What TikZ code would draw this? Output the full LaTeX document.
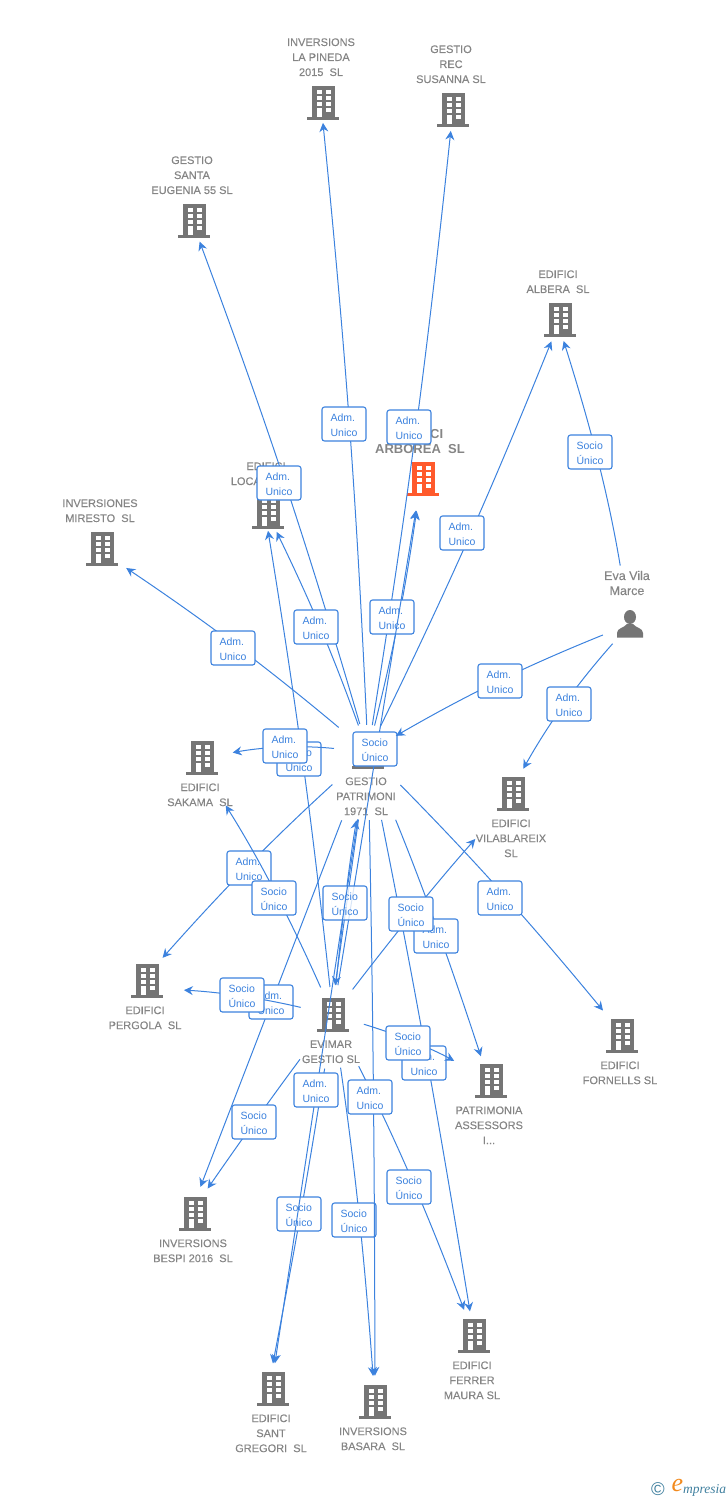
\documentclass[tikz,border=0pt]{standalone}
\usepackage{fontspec}
\setmainfont{Liberation Sans}
\newfontfamily\labelfont[FakeBold=0.3]{Liberation Sans}
\newfontfamily\logofont{Liberation Serif}
\usetikzlibrary{positioning,arrows.meta}
\definecolor{linkBlue}{HTML}{3C82DE}
\definecolor{compGray}{HTML}{757575}
\definecolor{labelGray}{HTML}{858585}
\definecolor{mainOrange}{HTML}{FF5A2C}
\definecolor{logoTeal}{HTML}{3F7F9E}
\definecolor{logoOrange}{HTML}{F28A1E}
\tikzset{
  company/.style={inner sep=0pt, minimum size=0pt},
  compLabel/.style={inner sep=0pt, align=center, text=labelGray, font=\labelfont\fontsize{11}{15}\selectfont},
  link/.style={draw=linkBlue, line width=1pt, -{Stealth[length=9pt,width=9pt,inset=3pt]}},
  tagbox/.style={draw=linkBlue, line width=1.1pt, fill=white, rounded corners=2.5pt, text=linkBlue,
    minimum width=44pt, minimum height=34pt, inner sep=0pt, align=left, text height=26pt, font=\fontsize{10.5}{15}\selectfont},
  building/.pic={
    \fill[#1] (-11,-17) rectangle (11.5,14);
    \fill[#1] (-16,13.5) rectangle (16,16.5);
    \foreach \wy in {-13,-7,-1,5} \fill[white] (3,\wy) rectangle (8,\wy+4);
    \foreach \wy in {-13,-7,-1} \fill[white] (-6.5,\wy) rectangle (-1.5,\wy+4);
    \fill[white] (-6.5,5) rectangle (-1.5,13.5);
  },
  person/.pic={
    \fill[compGray] (0,-7) ellipse (6 and 7);
    \fill[compGray] (-13,13.5) -- (-13,9) .. controls (-13,4) and (-6,4) .. (-3,0) -- (3,0) .. controls (6,4) and (13,4) .. (13,9) -- (13,13.5) -- cycle;
  }
}
\begin{document}
\begin{tikzpicture}[x=1pt, y=-1pt, line join=round]
\useasboundingbox (0,0) rectangle (728,1500);
% companies with the label under the icon
\foreach \nm/\x/\y/\txt in {
  gestio/368/752/{GESTIO\\PATRIMONI\\1971\ \ SL},
  evimar/333/1015/{EVIMAR\\GESTIO SL},
  sakama/202/758/{EDIFICI\\SAKAMA\ \ SL},
  vilablareix/513/794/{EDIFICI\\VILABLAREIX\\SL},
  pergola/147/981/{EDIFICI\\PERGOLA\ \ SL},
  fornells/622/1036/{EDIFICI\\FORNELLS SL},
  patrimonia/491/1081/{PATRIMONIA\\ASSESSORS\\I...},
  bespi/195/1214/{INVERSIONS\\BESPI 2016\ \ SL},
  ferrer/474/1336/{EDIFICI\\FERRER\\MAURA SL},
  gregori/273/1389/{EDIFICI\\SANT\\GREGORI\ \ SL},
  basara/375/1402/{INVERSIONS\\BASARA\ \ SL}}{
  \node[company] (\nm) at (\x,\y) {};
  \pic at (\nm) {building=compGray};
  \node[compLabel, below=25pt of \nm, xshift=-2pt] (\nm-l) {\txt};
}
% companies with the label over the icon
\foreach \nm/\x/\y/\txt in {
  pineda/323/103/{INVERSIONS\\LA PINEDA\\2015\ \ SL},
  susanna/453/110/{GESTIO\\REC\\SUSANNA SL},
  eugenia/194/221/{GESTIO\\SANTA\\EUGENIA 55 SL},
  albera/560/320/{EDIFICI\\ALBERA\ \ SL},
  locales/268/512/{EDIFICI\\LOCALES\ \ SL},
  miresto/102/549/{INVERSIONES\\MIRESTO\ \ SL}}{
  \node[company] (\nm) at (\x,\y) {};
  \pic at (\nm) {building=compGray};
  \node[compLabel, above=26.5pt of \nm, xshift=-2pt] (\nm-l) {\txt};
}
\node[company] (arborea) at (423,479) {};
\pic at (arborea) {building=mainOrange};
\node[compLabel, above=25pt of arborea, xshift=-3pt, font=\fontsize{13}{15}\bfseries] (arborea-l) {EDIFICI\\ARBOREA\ \ SL};
\node[company] (eva) at (630,624) {};
\pic at (eva) {person};
\node[compLabel, above=28.5pt of eva, xshift=-3pt, font=\labelfont\fontsize{12.5}{15}\selectfont] (eva-l) {Eva Vila\\Marce};
% links of gestio
\foreach \dst/\dx/\gapa/\gapb/\bnd/\tx/\ty in {
  pineda/-2/27/20/-1.5/344/424,
  susanna/0/27/21/-1.5/409/427,
  eugenia/-2/29/22/-2/279/483,
  locales/-1/28/22/-3/316/627,
  arborea/-2/27/32/-3/392/617,
  albera/0/28/23/-2/462/533,
  miresto/-4/38/34/-3/233/648,
  pergola/-5/48/31/-3/249/868,
  bespi/-5/73/29/0/271/1002,
  patrimonia/-2/73/26/2/436/936,
  fornells/2/46/33/2.5/500/898,
  ferrer/0/69/25/1/424/1063}{
  \draw[link, shorten <=\gapa pt, shorten >=\gapb pt] (gestio) to[bend left=\bnd] ([xshift=\dx pt]\dst);
  \node[tagbox] (adm-\dst) at (\tx,\ty) {Adm.\\Unico};
}
\draw[link, shorten <=68pt, shorten >=30pt] (gestio) to ([xshift=-2pt]evimar);
% links of evimar
\foreach \dst/\dx/\gapa/\gapb/\bnd/\tx/\ty in {
  sakama/-6/30/56/-4/274/898,
  locales/-3/28/19/-1.5/299/759,
  arborea/-2/30/32/0/375/749,
  vilablareix/2/32/60/2/411/914,
  patrimonia/0/32/42/6/408/1043,
  ferrer/0/57/28/3/409/1187,
  basara/0/53/26/2/354/1220,
  gregori/-5/54/26/1/299/1214,
  bespi/-5/55/31/-1/254/1122}{
  \draw[link, shorten <=\gapa pt, shorten >=\gapb pt] (evimar) to[bend left=\bnd] ([xshift=\dx pt]\dst);
  \node[tagbox] (socio-\dst) at (\tx,\ty) {Socio\\Único};
}
\draw[link, shorten <=33pt, shorten >=37pt] (evimar) to[bend left=-5] ([yshift=-7pt]pergola);
\node[tagbox] (socio-pergola) at (242,995) {Socio\\Único};
\draw[link, shorten <=30pt, shorten >=69pt] (evimar) to[bend left=2] (gestio);
\node[tagbox, fill opacity=.8, text opacity=1] (socio-evimar) at (345,903) {Socio\\Único};
% last links of gestio
\draw[link, shorten <=68pt, shorten >=26pt] (gestio) to ([xshift=-2pt]gregori);
\node[tagbox] (adm-gregori) at (316,1090) {Adm.\\Unico};
\draw[link, shorten <=68pt, shorten >=26pt] (gestio) to[bend left=0.5] (basara);
\node[tagbox] (adm-basara) at (370,1097) {Adm.\\Unico};
\draw[link, shorten <=34pt, shorten >=31pt] (gestio) to[bend left=-8] (sakama);
\node[tagbox] (adm-sakama) at (285,746) {Adm.\\Unico};
% links of eva
\draw[link, shorten <=59pt, shorten >=22pt] (eva) to[bend left=-4] ([xshift=-3pt]albera);
\node[tagbox] (socio-albera) at (590,452) {Socio\\Único};
\draw[link, shorten <=29pt, shorten >=32pt] (eva) to[bend left=-4] (gestio);
\node[tagbox] (adm-eva) at (500,681) {Adm.\\Unico};
\draw[link, shorten <=26pt, shorten >=29pt] (eva) to[bend left=-6] ([xshift=-4pt]vilablareix);
\node[tagbox] (adm-vilablareix) at (569,704) {Adm.\\Unico};
% logo
\node[inner sep=0pt, text=logoTeal, font=\fontsize{18.5}{18}\selectfont] (logoC) at (658,1489) {\textcopyright};
\node[inner sep=0pt, text=logoOrange, font=\logofont\fontsize{26}{26}\itshape] (logoE) at (677.5,1485) {e};
\node[inner sep=0pt, anchor=west, text=logoTeal, font=\logofont\fontsize{13.5}{14}\itshape] (logoM) at (683,1490) {mpresia};
\end{tikzpicture}
\end{document}
